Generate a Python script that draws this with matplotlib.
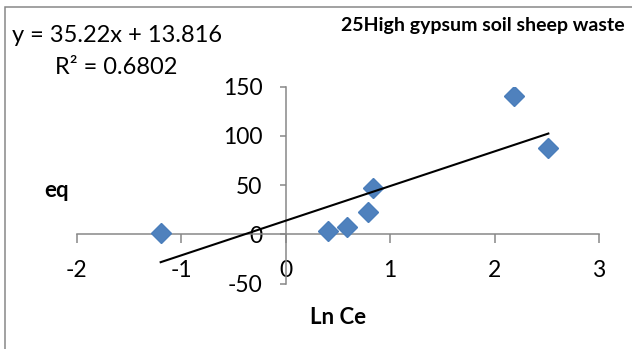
import numpy as np
import matplotlib.pyplot as plt
from matplotlib.patches import Rectangle

plt.rcParams['font.family'] = ['Lato', 'DejaVu Sans']
plt.rcParams['axes.unicode_minus'] = False

# Ln Ce vs qe for the high gypsum soil with sheep waste
ln_ce = [-1.197, 0.402, 0.590, 0.791, 0.833, 2.190, 2.515]
qe = [1.0, 3.4, 7.8, 23.1, 46.8, 140.6, 87.4]

# linear trendline reported on the chart
slope = 35.22
intercept = 13.816
r2 = 0.6802

x_ticks = [-2, -1, 0, 1, 2, 3]
y_ticks = [-50, 0, 50, 100, 150]

W, H = 632, 349
fig = plt.figure(figsize=(W / 100, H / 100), dpi=100)
ax = fig.add_axes([76.8 / W, 1 - 283.5 / H, (599 - 76.8) / W, (283.5 - 86.7) / H])

axis_grey = '#878787'

ax.plot(ln_ce, qe, linestyle='none', marker='D', markersize=10,
        color='#4F81BD', markeredgecolor='#4A7EBB', zorder=3)

xs = np.array([min(ln_ce), max(ln_ce)])
ax.plot(xs, slope * xs + intercept, color='black', linewidth=1.5, zorder=4)

ax.set_xlim(-2, 3)
ax.set_ylim(-50, 150)
ax.set_xticks(x_ticks)
ax.set_yticks(y_ticks)

# axes cross at the origin
ax.spines['left'].set_position(('data', 0))
ax.spines['bottom'].set_position(('data', 0))
ax.spines['right'].set_visible(False)
ax.spines['top'].set_visible(False)
for s in ('left', 'bottom'):
    ax.spines[s].set_color(axis_grey)
    ax.spines[s].set_linewidth(1.1)
ax.set_facecolor('none')

ax.tick_params(axis='x', direction='out', length=6.3, width=1.1, color=axis_grey,
               pad=12.5, labelsize=16.5)
ax.tick_params(axis='y', direction='out', length=4.3, width=1.1, color=axis_grey,
               pad=12.5, labelsize=16.5)

ax.set_xlabel('Ln Ce', fontsize=16, fontweight='bold')
ax.xaxis.set_label_coords(0.5, -0.119)
ax.set_ylabel('eq', fontsize=16, fontweight='bold', rotation=0, va='center', ha='center')
ax.yaxis.set_label_coords(-0.038, 0.475)

fig.text(483 / W, 1 - 25 / H, '25High gypsum soil sheep waste', fontsize=14,
         fontweight='bold', ha='center', va='center')
fig.text(12 / W, 1 - 35 / H, f'y = {slope}x + {intercept}', fontsize=17,
         ha='left', va='center')
fig.text(55 / W, 1 - 68 / H, f'R² = {r2}', fontsize=17, ha='left', va='center')

# chart area border (only the top and left edges fall inside the image)
fig.patches.append(Rectangle((4.5 / W, -0.1), 1.2, 1.1 - 7.5 / H,
                             transform=fig.transFigure, fill=False,
                             edgecolor=axis_grey, linewidth=1.1))

fig.savefig('out.png', dpi=100, facecolor='white')
